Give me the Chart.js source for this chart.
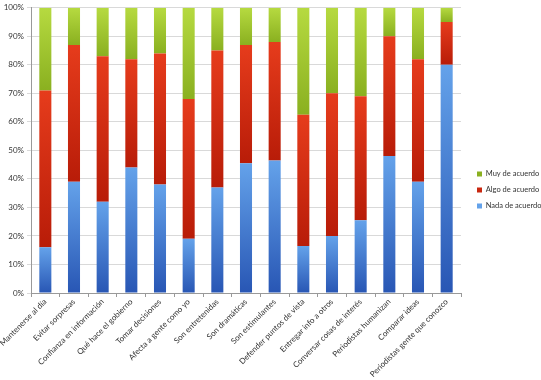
<!DOCTYPE html>
<html>
<head>
<meta charset="utf-8">
<script src="https://cdn.jsdelivr.net/npm/chart.js@4/dist/chart.umd.min.js"></script>
<style>
  html, body { margin: 0; padding: 0; background: #fff; }
  #wrap { width: 541px; height: 380px; position: relative; }
</style>
</head>
<body>
<div id="wrap"><canvas id="c"></canvas></div>
<script>
const categories = [
  "Mantenerse al día", "Evitar sorpresas", "Confianza en información",
  "Qué hace el gobierno", "Tomar decisiones", "Afecta a gente como yo",
  "Son entretenidas", "Son dramáticas", "Son estimulantes",
  "Defender puntos de vista", "Entregar info a otros", "Conversar cosas de interés",
  "Periodistas humanizan", "Comparar ideas", "Periodistas gente que conozco"
];
const nadaDeAcuerdo = [16, 39, 32, 44, 38, 19, 37, 45.5, 46.5, 16.5, 20, 25.5, 48, 39, 80];
const algoDeAcuerdo = [55, 48, 51, 38, 46, 49, 48, 41.5, 41.5, 46, 50, 43.5, 42, 43, 15];
const muyDeAcuerdo  = [29, 13, 17, 18, 16, 32, 15, 13, 12, 37.5, 30, 31, 10, 18, 5];
const yTicks = [0, 10, 20, 30, 40, 50, 60, 70, 80, 90, 100];

const palettes = [
  { solid: "#4a86d6", dark: "#2856b4", light: "#64a2ea" },
  { solid: "#d82a12", dark: "#b81c08", light: "#e63c1c" },
  { solid: "#a2c830", dark: "#8ab020", light: "#b6da40" }
];

function grad(di) {
  return function (ctx) {
    const p = palettes[di];
    const chart = ctx.chart;
    if (!chart.chartArea || ctx.type !== "data" || !chart.scales.y) return p.solid;
    let start = 0;
    for (let k = 0; k < di; k++) start += chart.data.datasets[k].data[ctx.dataIndex];
    const end = start + chart.data.datasets[di].data[ctx.dataIndex];
    const y0 = chart.scales.y.getPixelForValue(start);
    const y1 = chart.scales.y.getPixelForValue(end);
    if (!isFinite(y0) || !isFinite(y1) || y0 === y1) return p.solid;
    const g = chart.ctx.createLinearGradient(0, y0, 0, y1);
    g.addColorStop(0, p.dark);
    g.addColorStop(1, p.light);
    return g;
  };
}

const font = "Lato, 'Open Sans', 'DejaVu Sans', sans-serif";

const legendShift = {
  id: "legendShift",
  beforeDraw(chart) {
    if (chart.legend && chart.chartArea) {
      const w = chart.legend.width;
      chart.legend.left = chart.chartArea.right + 7.5;
      chart.legend.right = chart.legend.left + w;
    }
  }
};

new Chart(document.getElementById("c"), {
  type: "bar",
  data: {
    labels: categories,
    datasets: [
      { label: "Nada de acuerdo", data: nadaDeAcuerdo, backgroundColor: grad(0) },
      { label: "Algo de acuerdo", data: algoDeAcuerdo, backgroundColor: grad(1) },
      { label: "Muy de acuerdo",  data: muyDeAcuerdo,  backgroundColor: grad(2) }
    ]
  },
  plugins: [legendShift],
  options: {
    responsive: true,
    maintainAspectRatio: false,
    animation: false,
    layout: { padding: { top: 0, right: 0, left: 0, bottom: 0 } },
    datasets: { bar: { categoryPercentage: 1, barPercentage: 0.42 } },
    scales: {
      x: {
        stacked: true,
        afterFit: (scale) => { scale.height = 87; scale.paddingLeft = 0; scale.paddingRight = 0; },
        grid: { display: true, drawOnChartArea: false, drawTicks: true, tickLength: 4, color: "#999", offset: true },
        border: { color: "#999" },
        ticks: { maxRotation: 45, minRotation: 45, autoSkip: false, color: "#333", font: { family: font, size: 8 }, padding: 0 }
      },
      y: {
        stacked: true,
        min: 0, max: 100,
        afterFit: (scale) => { scale.width = 31; },
        afterBuildTicks: (axis) => { axis.ticks = yTicks.map(v => ({ value: v })); },
        grid: { color: "#d9d9d9", tickLength: 4, drawTicks: true },
        border: { color: "#999" },
        ticks: { color: "#333", font: { family: font, size: 8 }, padding: 3, callback: (v) => v + "%" }
      }
    },
    plugins: {
      legend: {
        position: "right",
        reverse: true,
        maxWidth: 80,
        labels: { boxWidth: 5, boxHeight: 5, padding: 8.5, color: "#333", font: { family: font, size: 7.5 } }
      },
      tooltip: { enabled: false }
    }
  }
});
</script>
</body>
</html>
